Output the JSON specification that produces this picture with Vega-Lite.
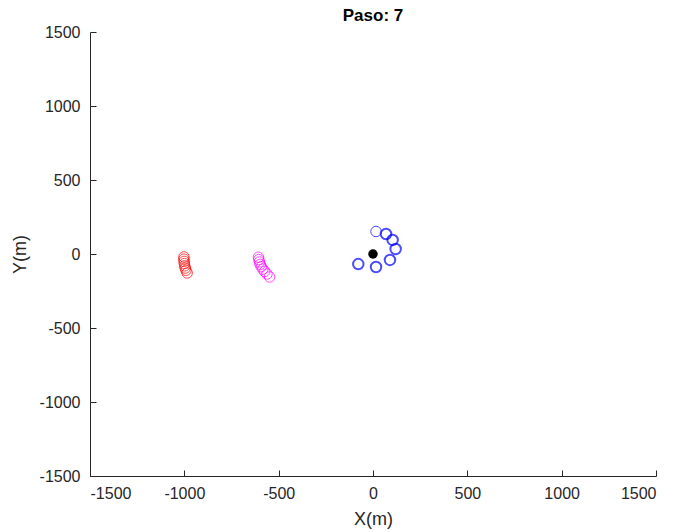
{
  "$schema": "https://vega.github.io/schema/vega-lite/v6.json",
  "width": 566,
  "height": 444,
  "autosize": {"type": "none"},
  "padding": {"left": 90, "top": 32, "right": 19, "bottom": 56},
  "background": "white",
  "config": {
    "view": {"stroke": null},
    "font": "Liberation Sans",
    "axis": {
      "grid": false,
      "domainColor": "#262626",
      "tickColor": "#262626",
      "labelColor": "#262626",
      "titleColor": "#262626",
      "labelFont": "Liberation Sans",
      "titleFont": "Liberation Sans",
      "labelFontSize": 16,
      "titleFontSize": 18,
      "titleFontWeight": "normal",
      "tickSize": -6,
      "labelExpr": "'' + datum.value"
    }
  },
  "title": {"text": "Paso: 7", "fontSize": 17, "fontWeight": "bold", "color": "#000000", "offset": 7, "dy": 8, "font": "Liberation Sans"},
  "data": {
    "values": [
      {"x": -1002, "y": -20, "serie": "rojo"},
      {"x": -1002, "y": -35, "serie": "rojo"},
      {"x": -1001, "y": -50, "serie": "rojo"},
      {"x": -1000, "y": -65, "serie": "rojo"},
      {"x": -998, "y": -80, "serie": "rojo"},
      {"x": -995, "y": -95, "serie": "rojo"},
      {"x": -991, "y": -110, "serie": "rojo"},
      {"x": -985, "y": -128, "serie": "rojo"},
      {"x": -607, "y": -22, "serie": "magenta"},
      {"x": -605, "y": -38, "serie": "magenta"},
      {"x": -602, "y": -54, "serie": "magenta"},
      {"x": -598, "y": -70, "serie": "magenta"},
      {"x": -592, "y": -86, "serie": "magenta"},
      {"x": -584, "y": -102, "serie": "magenta"},
      {"x": -574, "y": -118, "serie": "magenta"},
      {"x": -562, "y": -135, "serie": "magenta"},
      {"x": -548, "y": -155, "serie": "magenta"},
      {"x": 16, "y": 152, "serie": "azul claro"},
      {"x": 69, "y": 135, "serie": "azul"},
      {"x": 104, "y": 95, "serie": "azul"},
      {"x": 120, "y": 34, "serie": "azul"},
      {"x": 90, "y": -40, "serie": "azul"},
      {"x": 16, "y": -88, "serie": "azul"},
      {"x": -78, "y": -68, "serie": "azul"}
    ]
  },
  "encoding": {
    "x": {"field": "x", "type": "quantitative", "scale": {"domain": [-1500, 1500], "nice": false}, "axis": {"values": [-1500, -1000, -500, 0, 500, 1000, 1500], "title": "X(m)", "titlePadding": 9, "labelPadding": 15}},
    "y": {"field": "y", "type": "quantitative", "scale": {"domain": [-1500, 1500], "nice": false}, "axis": {"values": [-1500, -1000, -500, 0, 500, 1000, 1500], "title": "Y(m)", "titlePadding": 10, "labelPadding": 16}}
  },
  "layer": [
    {
      "transform": [{"filter": "datum.serie != 'azul'"}],
      "mark": {"type": "point", "shape": "circle", "filled": false, "size": 110, "strokeWidth": 1},
      "encoding": {
        "color": {"field": "serie", "type": "nominal", "scale": {"domain": ["rojo", "magenta", "azul claro", "azul"], "range": ["#ff0000", "#ff00ff", "#0000ff", "#0000ff"]}, "legend": null}
      }
    },
    {
      "transform": [{"filter": "datum.serie == 'azul'"}],
      "mark": {"type": "point", "shape": "circle", "filled": false, "size": 110, "strokeWidth": 2},
      "encoding": {
        "color": {"field": "serie", "type": "nominal", "legend": null}
      }
    },
    {
      "data": {"values": [{"x": 0, "y": 0}]},
      "mark": {"type": "point", "shape": "circle", "filled": true, "size": 90, "color": "#000000", "opacity": 1},
      "encoding": {}
    }
  ]
}
